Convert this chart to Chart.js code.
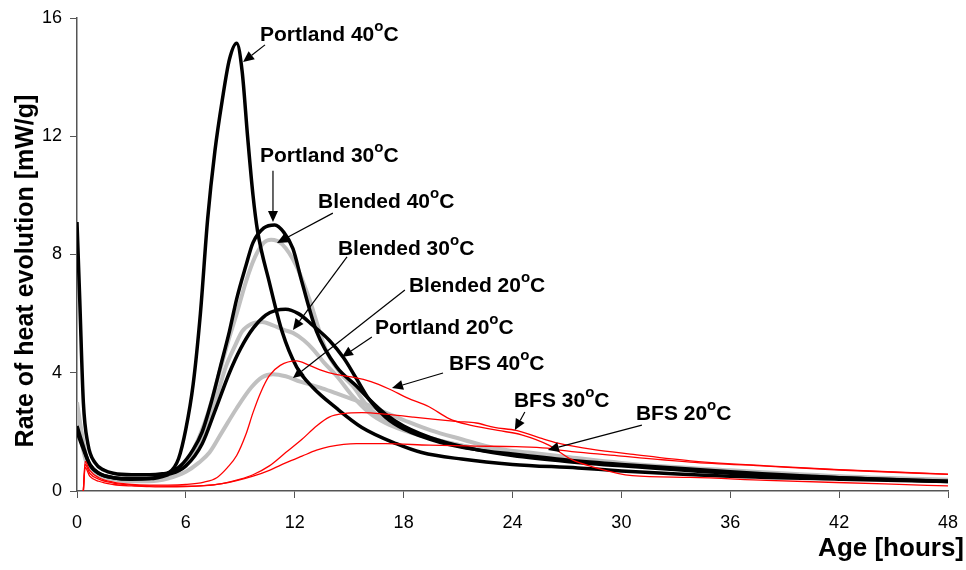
<!DOCTYPE html>
<html>
<head>
<meta charset="utf-8">
<script src="https://cdn.jsdelivr.net/npm/chart.js@4"></script>
<style>
  body { margin: 0; background: #fff; }
</style>
</head>
<body>
<canvas id="heatChart" width="966" height="570"></canvas>
<script>
// Rate of heat evolution, [age in hours, mW/g]
const portland40 = [[0,9.1],[0.15,6.5],[0.35,3.0],[0.6,1.6],[1,0.95],[1.5,0.7],[2,0.6],[3,0.55],[4,0.55],[4.7,0.58],[5.1,0.64],[5.6,1.1],[6.0,2.1],[6.4,3.6],[6.8,6.0],[7.2,9.2],[7.6,11.5],[8.0,13.2],[8.4,14.6],[8.8,15.15],[9.1,14.2],[9.4,12.0],[9.7,10.0],[9.95,8.8],[10.6,7.06],[11.3,5.4],[12.1,4.2],[13,3.5],[14.3,2.8],[15.7,2.15],[17.6,1.6],[19,1.3],[21.2,1.08],[24,0.9],[27.6,0.78],[30,0.68],[36,0.5],[42,0.4],[48,0.32]];
const portland30 = [[0,2.2],[0.3,1.6],[0.7,0.9],[1.2,0.6],[2,0.45],[3,0.4],[4,0.42],[5,0.6],[5.7,0.85],[6.4,1.4],[6.9,2.0],[7.4,3.0],[7.9,4.2],[8.4,5.4],[8.8,6.5],[9.3,7.6],[9.7,8.4],[10.3,8.9],[10.9,9.0],[11.4,8.75],[11.9,8.2],[12.4,7.06],[13.2,5.4],[14.3,4.2],[15.4,3.55],[16.1,3.1],[17,2.6],[18,2.2],[20,1.7],[22,1.4],[24,1.2],[27,1.0],[30,0.85],[36,0.6],[42,0.45],[48,0.32]];
const portland20 = [[0,2.0],[0.3,1.5],[0.7,0.9],[1.2,0.6],[2,0.45],[3,0.42],[4,0.42],[5,0.55],[6,0.85],[6.9,1.6],[7.6,2.7],[8.4,4.0],[9.0,4.8],[9.7,5.5],[10.4,5.95],[11.0,6.12],[11.5,6.15],[12.2,6.0],[13,5.6],[13.9,5.1],[14.7,4.5],[15.4,3.8],[16.1,3.1],[17,2.5],[18,2.1],[20,1.65],[22,1.4],[24,1.25],[27,1.05],[30,0.9],[36,0.65],[42,0.45],[48,0.33]];
const blended40 = [[0,3.0],[0.2,2.2],[0.5,1.2],[1,0.7],[2,0.45],[3,0.38],[4,0.38],[5,0.5],[5.8,0.8],[6.5,1.5],[7.2,2.6],[7.8,3.9],[8.3,5.0],[8.8,6.0],[9.3,7.06],[9.8,7.9],[10.3,8.4],[10.7,8.5],[11.3,8.35],[12.1,7.6],[12.8,6.5],[13.7,4.8],[14.5,4.0],[15.2,3.55],[16.1,2.8],[17,2.4],[18,2.1],[20,1.7],[22,1.45],[24,1.3],[27,1.1],[30,0.9],[36,0.65],[42,0.48],[48,0.35]];
const blended30 = [[0,2.6],[0.2,2.0],[0.5,1.1],[1,0.65],[2,0.42],[3,0.35],[4,0.36],[5,0.5],[6,0.95],[6.7,1.6],[7.3,2.5],[7.8,3.4],[8.2,4.2],[8.7,4.9],[9.1,5.4],[9.6,5.65],[10.2,5.72],[10.8,5.6],[11.4,5.45],[11.9,5.35],[12.5,5.1],[13,4.8],[13.6,4.35],[14.3,3.9],[15.2,3.2],[16.1,2.65],[17,2.3],[18,2.05],[20,1.7],[22,1.45],[24,1.3],[27,1.1],[30,0.9],[36,0.65],[42,0.48],[48,0.35]];
const blended20 = [[0,2.4],[0.2,1.8],[0.5,1.0],[1,0.6],[2,0.4],[3,0.33],[4,0.33],[5,0.42],[6,0.65],[6.7,0.95],[7.3,1.3],[8,2.0],[8.8,2.8],[9.6,3.5],[10.2,3.85],[10.8,3.95],[11.5,3.88],[12.3,3.7],[13.4,3.5],[14.3,3.3],[15.2,3.1],[16.1,2.9],[17,2.65],[18,2.4],[19.5,2.05],[21.2,1.75],[23,1.45],[24.9,1.3],[27,1.15],[30,0.95],[36,0.7],[42,0.5],[48,0.38]];
const bfs40 = [[0.35,0],[0.45,1.0],[0.7,0.7],[1.2,0.45],[2,0.3],[3,0.22],[4,0.2],[5,0.2],[6,0.22],[7,0.3],[7.7,0.45],[8.3,0.8],[8.8,1.2],[9.3,1.9],[9.7,2.65],[10.1,3.3],[10.6,3.9],[11.2,4.25],[12.1,4.4],[12.8,4.25],[13.4,4.1],[14.2,3.95],[15.2,3.85],[16.2,3.7],[17.2,3.45],[18.2,3.15],[19.4,2.85],[20.5,2.45],[21.5,2.25],[23.2,2.05],[24.5,1.9],[26,1.55],[27.3,1.05],[28.4,0.82],[30.6,0.52],[33.8,0.46],[38,0.36],[44.5,0.24],[48,0.17]];
const bfs30 = [[0.35,0],[0.45,0.9],[0.7,0.6],[1.2,0.4],[2,0.27],[3,0.2],[4,0.17],[5,0.16],[6,0.16],[7,0.18],[8,0.25],[9,0.4],[9.7,0.55],[10.6,0.85],[11.5,1.3],[12.4,1.75],[13.2,2.2],[13.9,2.5],[14.7,2.62],[15.7,2.65],[17,2.6],[18.5,2.5],[19.6,2.43],[21,2.35],[22,2.3],[23,2.15],[24.2,2.05],[25.5,1.8],[26.5,1.62],[28.5,1.4],[30.5,1.25],[33.8,1.02],[38,0.85],[42,0.72],[48,0.57]];
const bfs20 = [[0.35,0],[0.45,0.8],[0.7,0.5],[1.2,0.33],[2,0.22],[3,0.17],[4,0.15],[5,0.14],[6,0.15],[7,0.18],[7.9,0.24],[8.8,0.35],[9.7,0.5],[10.6,0.7],[11.5,0.95],[12.4,1.18],[13.2,1.38],[13.9,1.5],[15.4,1.6],[17,1.6],[19.4,1.55],[22,1.52],[24.2,1.5],[25.9,1.45],[26.5,1.39],[30,1.18],[33.8,0.98],[38,0.84],[42,0.71],[48,0.56]];

const xTicks = [0, 6, 12, 18, 24, 30, 36, 42, 48];
const yTicks = [0, 4, 8, 12, 16];

// label text, where the text starts, arrow tail and head (data units)
const notes = [
  { name: "Portland 40", at: [10.08, 15.49], from: [10.36, 15.09], to: [9.15, 14.51] },
  { name: "Portland 30", at: [10.08, 11.37], from: [10.8, 10.83], to: [10.8, 9.1] },
  { name: "Blended 40", at: [13.28, 9.84], from: [14.1, 9.4], to: [11.02, 8.39] },
  { name: "Blended 30", at: [14.38, 8.22], from: [14.88, 7.92], to: [11.9, 5.45] },
  { name: "Blended 20", at: [18.29, 6.97], from: [18.07, 6.8], to: [11.9, 3.82] },
  { name: "Portland 20", at: [16.42, 5.58], from: [16.25, 5.21], to: [14.6, 4.53] },
  { name: "BFS 40", at: [20.5, 4.36], from: [20.17, 3.99], to: [17.36, 3.48] },
  { name: "BFS 30", at: [24.08, 3.08], from: [24.68, 2.67], to: [24.13, 2.06] },
  { name: "BFS 20", at: [30.8, 2.64], from: [31.13, 2.23], to: [25.95, 1.39] },
];

function toPoints(rows) {
  return rows.map(function (r) { return { x: r[0], y: r[1] }; });
}

function series(rows, color, width) {
  return {
    data: toPoints(rows),
    borderColor: color,
    borderWidth: width,
    pointRadius: 0,
    fill: false,
    cubicInterpolationMode: "monotone",
  };
}

const notesPlugin = {
  id: "notes",
  afterDraw(chart) {
    const ctx = chart.ctx;
    const xs = chart.scales.x;
    const ys = chart.scales.y;
    ctx.save();
    ctx.fillStyle = "#000";
    ctx.strokeStyle = "#000";
    ctx.textBaseline = "alphabetic";
    ctx.textAlign = "left";
    notes.forEach(function (n) {
      let x = xs.getPixelForValue(n.at[0]);
      const base = ys.getPixelForValue(n.at[1]) + 7.5;
      ctx.font = "bold 21px 'Liberation Sans', Arial, sans-serif";
      ctx.fillText(n.name, x, base);
      x += ctx.measureText(n.name).width;
      ctx.font = "bold 15px 'Liberation Sans', Arial, sans-serif";
      ctx.fillText("o", x, base - 10);
      x += ctx.measureText("o").width;
      ctx.font = "bold 21px 'Liberation Sans', Arial, sans-serif";
      ctx.fillText("C", x, base);

      const x1 = xs.getPixelForValue(n.from[0]), y1 = ys.getPixelForValue(n.from[1]);
      const x2 = xs.getPixelForValue(n.to[0]), y2 = ys.getPixelForValue(n.to[1]);
      const a = Math.atan2(y2 - y1, x2 - x1);
      const len = 11, half = 5;
      const bx = x2 - len * Math.cos(a), by = y2 - len * Math.sin(a);
      ctx.lineWidth = 1.2;
      ctx.beginPath();
      ctx.moveTo(x1, y1);
      ctx.lineTo(bx, by);
      ctx.stroke();
      ctx.beginPath();
      ctx.moveTo(x2, y2);
      ctx.lineTo(bx + half * Math.sin(a), by - half * Math.cos(a));
      ctx.lineTo(bx - half * Math.sin(a), by + half * Math.cos(a));
      ctx.closePath();
      ctx.fill();
    });

    // axis titles
    ctx.font = "bold 26px 'Liberation Sans', Arial, sans-serif";
    ctx.textAlign = "right";
    ctx.textBaseline = "middle";
    ctx.fillText("Age [hours]", 964, 549);
    ctx.font = "bold 25px 'Liberation Sans', Arial, sans-serif";
    ctx.translate(26, 271);
    ctx.rotate(-Math.PI / 2);
    ctx.textAlign = "center";
    ctx.fillText("Rate of heat evolution [mW/g]", 0, 0);
    ctx.restore();
  },
};

const ctxHeat = document.getElementById("heatChart").getContext("2d");
const heatChart = new Chart(ctxHeat, {
  type: "line",
  data: {
    datasets: [
      series(bfs40, "#ff0000", 1.3),
      series(bfs30, "#ff0000", 1.3),
      series(bfs20, "#ff0000", 1.3),
      series(portland40, "#000000", 3.5),
      series(portland30, "#000000", 3.5),
      series(portland20, "#000000", 3.5),
      series(blended40, "#c0c0c0", 4),
      series(blended30, "#c0c0c0", 4),
      series(blended20, "#c0c0c0", 4),
    ],
  },
  options: {
    responsive: false,
    animation: false,
    layout: { padding: { left: 0, right: 18, top: 18, bottom: 0 } },
    scales: {
      x: {
        type: "linear",
        min: 0,
        max: 48,
        afterFit: function (scale) {
          scale.height = 79;
          scale.paddingLeft = 0;
          scale.paddingRight = 0;
        },
        afterBuildTicks: function (scale) {
          scale.ticks = xTicks.map(function (v) { return { value: v }; });
        },
        ticks: { color: "#000", padding: 14, font: { size: 18, family: "'Liberation Sans', Arial, sans-serif" } },
        grid: { drawOnChartArea: false, drawTicks: true, tickLength: 7, color: "#555" },
        border: { color: "#555", width: 1.5 },
      },
      y: {
        min: 0,
        max: 16,
        afterFit: function (scale) {
          scale.width = 77;
          scale.paddingTop = 0;
          scale.paddingBottom = 0;
        },
        afterBuildTicks: function (scale) {
          scale.ticks = yTicks.map(function (v) { return { value: v }; });
        },
        ticks: { color: "#000", padding: 8, font: { size: 18, family: "'Liberation Sans', Arial, sans-serif" } },
        grid: { drawOnChartArea: false, drawTicks: true, tickLength: 7, color: "#555" },
        border: { color: "#555", width: 1.5 },
      },
    },
    plugins: {
      legend: { display: false },
      tooltip: { enabled: false },
    },
  },
  plugins: [notesPlugin],
});
</script>
</body>
</html>
